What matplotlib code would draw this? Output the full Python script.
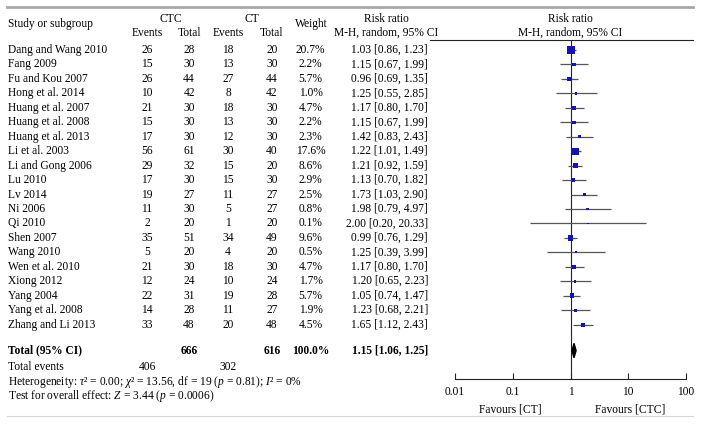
import matplotlib.pyplot as plt
import numpy as np

plt.rcParams['font.family'] = 'Liberation Serif'
plt.rcParams['mathtext.fontset'] = 'custom'
plt.rcParams['mathtext.rm'] = 'Liberation Serif'
plt.rcParams['mathtext.it'] = 'Liberation Serif:italic'
plt.rcParams['mathtext.bf'] = 'Liberation Serif:bold'

studies = ['Dang and Wang 2010', 'Fang 2009', 'Fu and Kou 2007', 'Hong et al. 2014',
           'Huang et al. 2007', 'Huang et al. 2008', 'Huang et al. 2013', 'Li et al. 2003',
           'Li and Gong 2006', 'Lu 2010', 'Lv 2014', 'Ni 2006', 'Qi 2010', 'Shen 2007',
           'Wang 2010', 'Wen et al. 2010', 'Xiong 2012', 'Yang 2004', 'Yang et al. 2008',
           'Zhang and Li 2013']
ctc_events = [26, 15, 26, 10, 21, 15, 17, 56, 29, 17, 19, 11, 2, 35, 5, 21, 12, 22, 14, 33]
ctc_total = [28, 30, 44, 42, 30, 30, 30, 61, 32, 30, 27, 30, 20, 51, 20, 30, 24, 31, 28, 48]
ct_events = [18, 13, 27, 8, 18, 13, 12, 30, 15, 15, 11, 5, 1, 34, 4, 18, 10, 19, 11, 20]
ct_total = [20, 30, 44, 42, 30, 30, 30, 40, 20, 30, 27, 27, 20, 49, 20, 30, 24, 28, 27, 48]
weight = [20.7, 2.2, 5.7, 1.0, 4.7, 2.2, 2.3, 17.6, 8.6, 2.9, 2.5, 0.8, 0.1, 9.6, 0.5,
          4.7, 1.7, 5.7, 1.9, 4.5]
rr = [1.03, 1.15, 0.96, 1.25, 1.17, 1.15, 1.42, 1.22, 1.21, 1.13, 1.73, 1.98, 2.00, 0.99,
      1.25, 1.17, 1.20, 1.05, 1.23, 1.65]
lo = [0.86, 0.67, 0.69, 0.55, 0.80, 0.67, 0.83, 1.01, 0.92, 0.70, 1.03, 0.79, 0.20, 0.76,
      0.39, 0.80, 0.65, 0.74, 0.68, 1.12]
hi = [1.23, 1.99, 1.35, 2.85, 1.70, 1.99, 2.43, 1.49, 1.59, 1.82, 2.90, 4.97, 20.33, 1.29,
      3.99, 1.70, 2.23, 1.47, 2.21, 2.43]
total_rr, total_lo, total_hi = 1.15, 1.06, 1.25
total_ctc, total_ct = 666, 616
events_ctc, events_ct = 406, 302
axis_ticks = [0.01, 0.1, 1, 10, 100]
axis_labels = ['0.01', '0.1', '1', '10', '100']

W, H = 701, 425
fs = 8.3
row0, step = 50.0, 14.45
total_row = 20.8


def ypix(i):
    return row0 + step * i


fig = plt.figure(figsize=(W / 100, H / 100), dpi=100)
tab = fig.add_axes([0, 0, 1, 1])
tab.set_xlim(0, W)
tab.set_ylim(H, 0)
tab.axis('off')

# frame lines
tab.plot([7, 693], [6.5, 6.5], color='#a8a8a8', lw=2.0)
tab.plot([7, 693], [416, 416], color='#d8d8d8', lw=0.8)
tab.plot([430, 693], [40, 40], color='#222222', lw=0.8)

# header
tab.text(8, 24, 'Study or subgroup', fontsize=fs, va='center')
tab.text(170.5, 19, 'CTC', fontsize=fs, va='center', ha='center')
tab.text(252, 19, 'CT', fontsize=fs, va='center', ha='center')
for x, s in [(147.5, 'Events'), (189.5, 'Total'), (228, 'Events'), (272, 'Total')]:
    tab.text(x, 33, s, fontsize=fs, va='center', ha='center')
tab.text(311, 24, 'Weight', fontsize=fs, va='center', ha='center')
tab.text(386, 19, 'Risk ratio', fontsize=fs, va='center', ha='center')
tab.text(386, 33, 'M-H, random, 95% CI', fontsize=fs, va='center', ha='center')
tab.text(570, 19, 'Risk ratio', fontsize=fs, va='center', ha='center')
tab.text(570, 33, 'M-H, random, 95% CI', fontsize=fs, va='center', ha='center')

# study rows
for i, name in enumerate(studies):
    y = ypix(i)
    tab.text(8, y, name, fontsize=fs, va='center')
    tab.text(147, y, str(ctc_events[i]), fontsize=fs, va='center', ha='center')
    tab.text(189, y, str(ctc_total[i]), fontsize=fs, va='center', ha='center')
    tab.text(228, y, str(ct_events[i]), fontsize=fs, va='center', ha='center')
    tab.text(272, y, str(ct_total[i]), fontsize=fs, va='center', ha='center')
    tab.text(310.5, y, f'{weight[i]:.1f}%', fontsize=fs, va='center', ha='center')
    tab.text(428, y, f'{rr[i]:.2f} [{lo[i]:.2f}, {hi[i]:.2f}]', fontsize=fs,
             va='center', ha='right')

# totals
yt = ypix(total_row)
tab.text(8, yt, 'Total (95% CI)', fontsize=fs, va='center', weight='bold')
tab.text(189, yt, str(total_ctc), fontsize=fs, va='center', ha='center', weight='bold')
tab.text(272, yt, str(total_ct), fontsize=fs, va='center', ha='center', weight='bold')
tab.text(311, yt, '100.0%', fontsize=fs, va='center', ha='center', weight='bold')
tab.text(428, yt, f'{total_rr:.2f} [{total_lo:.2f}, {total_hi:.2f}]', fontsize=fs,
         va='center', ha='right', weight='bold')
tab.text(8, 366.5, 'Total events', fontsize=fs, va='center')
tab.text(147, 366.5, str(events_ctc), fontsize=fs, va='center', ha='center')
tab.text(228, 366.5, str(events_ct), fontsize=fs, va='center', ha='center')
tab.text(8, 381.5, r'Heterogeneity: $\tau$² = 0.00; $\chi$² = 13.56, df = 19 ($p$ = 0.81); $I$² = 0%',
         fontsize=fs, va='center')
tab.text(8, 396.5, r'Test for overall effect: $Z$ = 3.44 ($p$ = 0.0006)', fontsize=fs, va='center')

# forest plot axes: x 455..686 px, y 40..379 px
x0, x1, y0, y1 = 455, 686, 40, 379
ax = fig.add_axes([x0 / W, 1 - y1 / H, (x1 - x0) / W, (y1 - y0) / H])
ax.set_xscale('log')
ax.set_xlim(0.01, 100)
ax.set_ylim((y1 - row0) / step, (y0 - row0) / step)
ax.patch.set_alpha(0)
for sp in ['top', 'left', 'right']:
    ax.spines[sp].set_visible(False)
ax.spines['bottom'].set_linewidth(0.8)
ax.spines['bottom'].set_color('#222222')
ax.set_yticks([])
ax.set_xticks(axis_ticks)
ax.set_xticklabels(axis_labels, fontsize=fs)
ax.minorticks_off()
ax.tick_params(axis='x', direction='in', length=4, width=0.8, pad=5, colors='#222222')
for lab in ax.get_xticklabels():
    lab.set_color('black')
ax.axvline(1, color='#222222', lw=0.8, zorder=1)

rows = np.arange(len(studies))
ax.hlines(rows, lo, hi, color='#555555', lw=0.9, zorder=2)
w = np.array(weight)
ax.scatter(rr, rows, marker='s', s=(1.0 + 4.6 * (w / 20.7) ** 0.6) ** 2,
           color='#1414b4', zorder=3, linewidths=0)

# pooled diamond
dh = 0.5
ax.fill([total_lo, total_rr, total_hi, total_rr],
        [total_row, total_row - dh, total_row, total_row + dh],
        color='black', zorder=3)

fig.text(510 / W, 1 - 409 / H, 'Favours [CT]', fontsize=fs, ha='center', va='center')
fig.text(630 / W, 1 - 409 / H, 'Favours [CTC]', fontsize=fs, ha='center', va='center')

fig.savefig('out.png', dpi=100)
